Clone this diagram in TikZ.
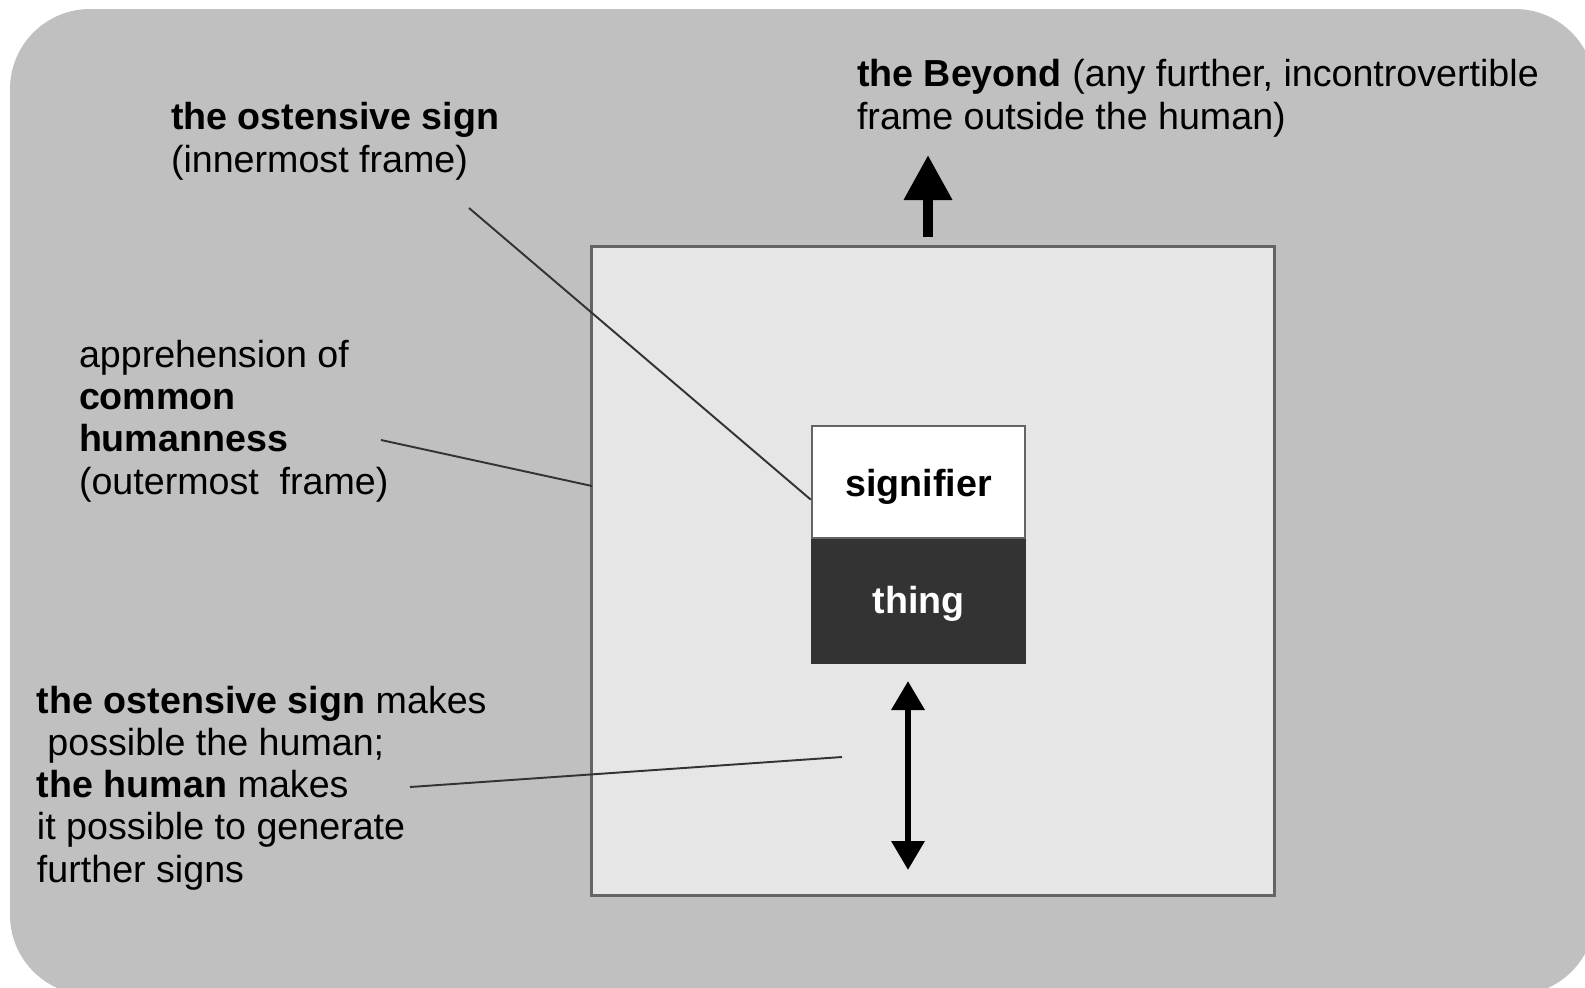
\documentclass[tikz,border=0pt]{standalone}
\usepackage{fontspec}
\setmainfont{Liberation Sans}
\usepackage{tikz}
\usetikzlibrary{arrows.meta, positioning}
\definecolor{framegray}{RGB}{192,192,192}
\definecolor{innergray}{RGB}{230,230,230}
\definecolor{thinggray}{RGB}{51,51,51}
\definecolor{edgegray}{RGB}{100,100,100}

\begin{document}
\begin{tikzpicture}[x=0.01cm, y=-0.01cm]
        \tikzstyle{caption} = [inner sep=0pt, outer sep=0pt, align=left, anchor=base west, font=\fontsize{10.7}{11.95}\selectfont]
        \tikzstyle{boxed} = [rectangle, draw=edgegray, line width=0.7pt, inner sep=0pt, text centered, text depth=0pt, minimum width=2.13cm, font=\fontsize{10.7}{11.95}\selectfont\bfseries]
        \tikzstyle{pointer} = [draw=black!80, line width=0.55pt]
        \tikzstyle{beyondarrow} = [line width=0.1cm, -{Triangle[width=0.46cm,length=0.45cm]}]
        \tikzstyle{twoway} = [line width=0.065cm, {Triangle[width=0.32cm,length=0.29cm]}-{Triangle[width=0.32cm,length=0.29cm]}]

        \useasboundingbox (0,0) rectangle (1585,987);
        \fill[framegray, rounded corners=0.8cm] (10,9) rectangle (1595,995);

        \node (frame) [rectangle, draw=edgegray, line width=0.8pt, fill=innergray, minimum width=6.82cm, minimum height=6.48cm] at (933,571) {};
        \node (signifier) [boxed, fill=white, text height=8.5pt, minimum height=1.12cm] at (918.5,482) {signifier};
        \node (thing) [boxed, fill=thinggray, draw=thinggray, text=white, text height=6.8pt, minimum height=1.22cm, below=0pt of signifier] {thing};

        % multi-line captions sit on the baseline of their last line
        \node (ostensive) [caption] at (171,172) {\textbf{the ostensive sign}\\(innermost frame)};
        \node (beyond) [caption] at (857,129) {\textbf{the Beyond} (any further, incontrovertible\\frame outside the human)};
        \node (humanness) [caption] at (79,494) {apprehension of\\\textbf{common}\\\textbf{humanness}\\(outermost\ \ frame)};
        \node (human) [caption] at (37,882) {\textbf{the ostensive sign} makes\\\ possible the human;\\\textbf{the human} makes\\it possible to generate\\further signs};

        \coordinate (ostensivefoot) at (469,208);
        \coordinate (humannessfoot) at (381,440);
        \coordinate (humannessend) at (592,486);
        \coordinate (humanfoot) at (410,787);
        \coordinate (humanend) at (842,757);
        \coordinate (beyondfoot) at (928,237);
        \coordinate (beyondtip) at (928,155);
        \coordinate (twowaytop) at (908,681);
        \coordinate (twowaybottom) at (908,870);

        \draw [pointer] (ostensivefoot) -- ([yshift=-5pt]signifier.west);
        \draw [pointer] (humannessfoot) -- (humannessend);
        \draw [pointer] (humanfoot) -- (humanend);
        \draw [beyondarrow] (beyondfoot) -- (beyondtip);
        \draw [twoway] (twowaytop) -- (twowaybottom);
    \end{tikzpicture}
\end{document}
